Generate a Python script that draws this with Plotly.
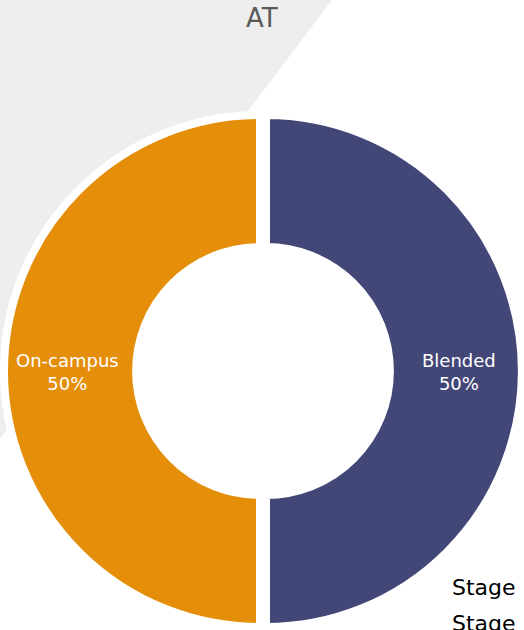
import plotly.graph_objects as go

# Delivery mode split
modes = ["On-campus", "Blended"]
shares = [50, 50]
colors = ["#E48E0A", "#434778"]
title_text = "AT"
legend_words = ["Stage", "Stage"]

W, H = 524, 630
FONT = "DejaVu Sans, sans-serif"

def px_x(x):
    return x / W

def px_y(y):
    return 1 - y / H

total = sum(shares)

fig = go.Figure()
fig.add_trace(go.Pie(
    labels=modes,
    values=shares,
    sort=False,
    direction="clockwise",
    rotation=180,
    hole=0.484,
    pull=[0.0117, 0.0117],
    marker=dict(colors=colors, line=dict(color="white", width=8)),
    textinfo="none",
    hoverinfo="label+percent",
    showlegend=False,
    domain=dict(x=[px_x(4), px_x(522)], y=[px_y(630), px_y(112)]),
))

# slice labels: name and share
label_pos = {"On-campus": 67, "Blended": 459}
annotations = []
for name, v in zip(modes, shares):
    pct = round(v / total * 100)
    annotations.append(dict(
        x=px_x(label_pos[name]), y=px_y(372), xref="paper", yref="paper",
        text=f"{name}<br>{pct}%", showarrow=False,
        font=dict(family=FONT, size=18, color="white"),
        align="center", xanchor="center", yanchor="middle",
    ))

annotations.append(dict(
    x=px_x(262), y=px_y(18), xref="paper", yref="paper",
    text=title_text, showarrow=False,
    font=dict(family=FONT, size=26, color="#595959"),
    xanchor="center", yanchor="middle",
))

for i, word in enumerate(legend_words):
    annotations.append(dict(
        x=px_x(450), y=px_y(587 + 36 * i), xref="paper", yref="paper",
        text=word, showarrow=False,
        font=dict(family=FONT, size=22, color="black"),
        xanchor="left", yanchor="middle",
    ))

fig.update_layout(
    width=W, height=H,
    margin=dict(l=0, r=0, t=0, b=0),
    paper_bgcolor="white",
    plot_bgcolor="white",
    annotations=annotations,
    shapes=[dict(
        type="path", xref="paper", yref="paper",
        path=f"M 0 1 L {px_x(332)} 1 L 0 {px_y(439)} Z",
        fillcolor="#EEEEEE", line=dict(width=0), layer="below",
    )],
)

fig.write_html("out.html")
